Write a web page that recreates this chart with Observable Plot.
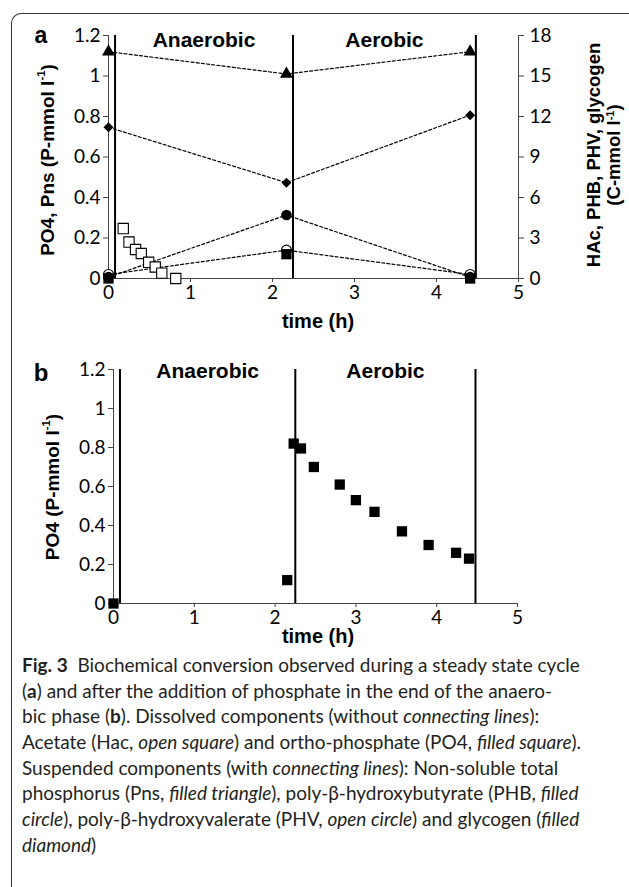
<!DOCTYPE html>
<html>
<head>
<meta charset="utf-8">
<script src="https://cdn.jsdelivr.net/npm/d3@7"></script>
<script src="https://cdn.jsdelivr.net/npm/@observablehq/plot@0.6"></script>
<style>
  html, body { margin: 0; padding: 0; background: #fff; }
  body { width: 629px; height: 887px; overflow: hidden; position: relative; font-family: "Liberation Sans", Arial, sans-serif; }
  #frame { position: absolute; left: 11px; top: 13px; width: 700px; height: 960px; border-left: 1px solid #333; border-top: 1px solid #333; border-top-left-radius: 10px; }
  #pa { position: absolute; left: 0; top: 0; }
  #pb { position: absolute; left: 0; top: 335px; }
  #cap { position: absolute; left: 22px; top: 652px; font-family: Lato, "Open Sans", sans-serif; font-size: 19px; line-height: 25.7px; color: #231f20; white-space: nowrap; }
  #cap div { height: 25.7px; }
</style>
</head>
<body>
<div id="frame"></div>
<div id="pa"></div>
<div id="pb"></div>
<div id="cap">
  <div><b>Fig. 3</b>&nbsp; Biochemical conversion observed during a steady state cycle</div>
  <div>(<b>a</b>) and after the addition of phosphate in the end of the anaero-</div>
  <div>bic phase (<b>b</b>). Dissolved components (without <i>connecting lines</i>):</div>
  <div>Acetate (Hac, <i>open square</i>) and ortho-phosphate (PO4, <i>filled square</i>).</div>
  <div>Suspended components (with <i>connecting lines</i>): Non-soluble total</div>
  <div>phosphorus (Pns, <i>filled triangle</i>), poly-β-hydroxybutyrate (PHB, <i>filled</i></div>
  <div><i>circle</i>), poly-β-hydroxyvalerate (PHV, <i>open circle</i>) and glycogen (<i>filled</i></div>
  <div><i>diamond</i>)</div>
</div>
<script>
// ---------- data ----------
const xTicks = [0, 1, 2, 3, 4, 5];
const leftTicks = [0, 0.2, 0.4, 0.6, 0.8, 1, 1.2];
const rightTicks = [0, 3, 6, 9, 12, 15, 18];
const phases = [0.08, 2.25, 4.48];              // phase boundaries (h)
const phaseNames = ["Anaerobic", "Aerobic"];

// panel a: suspended components (start, end of anaerobic, end of aerobic)
const tSusp = [0, 2.17, 4.41];
const pns = [1.12, 1.01, 1.12];        // P-mmol/l (left axis)
const glycogen = [11.2, 7.1, 12.1];    // C-mmol/l (right axis)
const phb = [0.1, 4.7, 0.1];           // C-mmol/l
const phv = [0.3, 2.1, 0.3];           // C-mmol/l
// panel a: dissolved
const po4A = [0, 0.12, 0];             // P-mmol/l
const tHac = [0.18, 0.25, 0.33, 0.40, 0.49, 0.57, 0.65, 0.82];
const hac = [3.7, 2.7, 2.15, 1.85, 1.2, 0.85, 0.4, 0];  // C-mmol/l

// panel b: PO4 after phosphate addition
const tPo4B = [0, 2.15, 2.23, 2.32, 2.48, 2.80, 3.00, 3.23, 3.57, 3.90, 4.24, 4.40];
const po4B = [0, 0.12, 0.82, 0.795, 0.70, 0.61, 0.53, 0.47, 0.37, 0.30, 0.26, 0.23];

// ---------- helpers ----------
const K = rightTicks[rightTicks.length - 1] / leftTicks[leftTicks.length - 1]; // right/left scale ratio
const fmt = d => String(+d.toFixed(1));
const W = 629;
const axisStroke = "#444";
const tickFont = {fontFamily: "Lato, 'Open Sans', sans-serif", fontSize: 19, fill: "#000"};
const dash = {stroke: "black", strokeWidth: 1.2, strokeDasharray: "3,2.2"};
const phaseMid = (d, i) => (phases[i] + phases[i + 1]) / 2;
const baseStyle = {fontFamily: "Lato, 'Open Sans', sans-serif", fontSize: "19px", color: "#000", background: "transparent", overflow: "visible"};

function frameMarks(withRight) {
  const m = [
    Plot.ruleY([0], {x1: 0, x2: 5, stroke: axisStroke}),
    Plot.ruleX([0], {y1: 0, y2: 1.2, stroke: axisStroke}),
    Plot.axisX(xTicks, {tickSize: 4, tickPadding: 3, stroke: axisStroke, label: null, ...tickFont}),
    Plot.axisY(leftTicks, {tickSize: 5, tickPadding: 3, stroke: axisStroke, tickFormat: fmt, label: null, ...tickFont})
  ];
  if (withRight) {
    m.push(Plot.ruleX([5], {y1: 0, y2: 1.2, stroke: axisStroke}));
    m.push(Plot.axisY(rightTicks.map(v => v / K), {anchor: "right", tickSize: 5, tickPadding: 6, stroke: axisStroke, tickFormat: d => Math.round(d * K), label: null, ...tickFont}));
  }
  return m;
}

function addText(svg, x, y, str, attrs) {
  const t = d3.select(svg).append("text").attr("x", x).attr("y", y)
    .attr("font-family", "'Liberation Sans', Arial, sans-serif").attr("font-weight", "bold")
    .attr("fill", "#000");
  for (const k in attrs) t.attr(k, attrs[k]);
  t.text(str);
  return t;
}
function addUnitTitle(svg, x, y, pre, post, size) {
  const t = d3.select(svg).append("text")
    .attr("transform", `translate(${x},${y}) rotate(-90)`)
    .attr("text-anchor", "middle").attr("dominant-baseline", "middle")
    .attr("font-family", "'Liberation Sans', Arial, sans-serif").attr("font-weight", "bold")
    .attr("font-size", size).attr("fill", "#000");
  t.append("tspan").text(pre);
  t.append("tspan").attr("font-size", size * 0.6).attr("dy", -size * 0.35).text("-1");
  t.append("tspan").attr("dy", size * 0.35).text(post);
  return t;
}

// ---------- panel a ----------
const rows = tSusp.map((t, i) => ({t, pns: pns[i], gly: glycogen[i] / K, phb: phb[i] / K, phv: phv[i] / K, po4: po4A[i]}));
const hacRows = tHac.map((t, i) => ({t, v: hac[i] / K}));

const svgA = Plot.plot({
  width: W, height: 335,
  marginTop: 35, marginBottom: 57, marginLeft: 108, marginRight: 111,
  x: {domain: [0, 5], label: null},
  y: {domain: [0, 1.2], label: null},
  style: baseStyle,
  marks: [
    ...frameMarks(true),
    Plot.line(rows, {x: "t", y: "pns", ...dash}),
    Plot.line(rows, {x: "t", y: "gly", ...dash}),
    Plot.line(rows, {x: "t", y: "phb", ...dash}),
    Plot.line(rows, {x: "t", y: "phv", ...dash}),
    Plot.ruleX(phases, {y1: 0, y2: 1.2, stroke: "black", strokeWidth: 2}),
    Plot.text(phaseNames, {x: phaseMid, y: 1.2, dy: 5, text: d => d, fontFamily: "'Liberation Sans', Arial", fontWeight: "bold", fontSize: 21, fill: "black"}),
    Plot.dot(hacRows, {x: "t", y: "v", symbol: "square", r: 5.8, fill: "white", stroke: "black", strokeWidth: 1.1}),
    Plot.dot(rows, {x: "t", y: "phv", symbol: "circle", r: 5, fill: "white", stroke: "black", strokeWidth: 1.1}),
    Plot.dot(rows, {x: "t", y: "phb", symbol: "circle", r: 5.3, fill: "black"}),
    Plot.dot(rows, {x: "t", y: "po4", symbol: "square", r: 5.8, fill: "black"}),
    Plot.dot(rows, {x: "t", y: "pns", symbol: "triangle", r: 4.8, fill: "black"}),
    Plot.dot(rows, {x: "t", y: "gly", symbol: "diamond2", r: 4.5, fill: "black"})
  ]
});
addText(svgA, 41, 43, "a", {"font-size": 23});
addText(svgA, 318, 328, "time (h)", {"font-size": 20, "text-anchor": "middle"});
addUnitTitle(svgA, 49, 160, "PO4, Pns (P-mmol l", ")", 19);
{
  const t = d3.select(svgA).append("text")
    .attr("transform", "translate(603,155) rotate(-90)")
    .attr("text-anchor", "middle")
    .attr("font-family", "'Liberation Sans', Arial, sans-serif").attr("font-weight", "bold")
    .attr("font-size", 18.5).attr("fill", "#000");
  t.append("tspan").attr("x", 0).attr("dy", -3).text("HAc, PHB, PHV, glycogen");
  t.append("tspan").attr("x", 0).attr("dy", 20).text("(C-mmol l");
  t.append("tspan").attr("font-size", 11).attr("dy", -6).text("-1");
  t.append("tspan").attr("dy", 6).text(")");
}
document.getElementById("pa").appendChild(svgA);

// ---------- panel b ----------
const rowsB = tPo4B.map((t, i) => ({t, v: po4B[i]}));
const svgB = Plot.plot({
  width: W, height: 335,
  marginTop: 34, marginBottom: 67, marginLeft: 113, marginRight: 112,
  x: {domain: [0, 5], label: null},
  y: {domain: [0, 1.2], label: null},
  style: baseStyle,
  marks: [
    ...frameMarks(false),
    Plot.ruleX(phases, {y1: 0, y2: 1.2, stroke: "black", strokeWidth: 2}),
    Plot.text(phaseNames, {x: phaseMid, y: 1.2, dy: 2, text: d => d, fontFamily: "'Liberation Sans', Arial", fontWeight: "bold", fontSize: 21, fill: "black"}),
    Plot.dot(rowsB, {x: "t", y: "v", symbol: "square", r: 5.8, fill: "black"})
  ]
});
addText(svgB, 41, 46, "b", {"font-size": 24});
addText(svgB, 318, 308, "time (h)", {"font-size": 20, "text-anchor": "middle"});
addUnitTitle(svgB, 54, 152, "PO4 (P-mmol l", ")", 19);
document.getElementById("pb").appendChild(svgB);
</script>
</body>
</html>
